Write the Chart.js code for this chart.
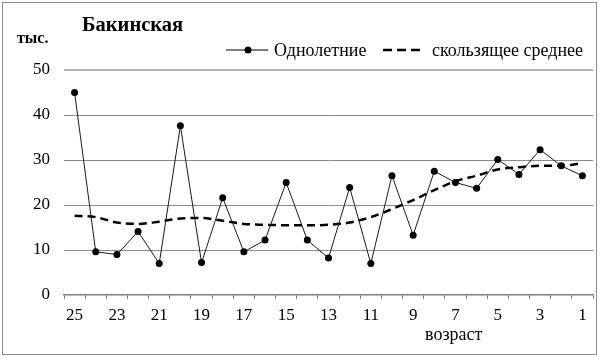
<!DOCTYPE html>
<html>
<head>
<meta charset="utf-8">
<script src="https://cdn.jsdelivr.net/npm/chart.js@4/dist/chart.umd.min.js"></script>
<style>
html,body{margin:0;padding:0;background:#fff;}
#wrap{width:600px;height:358px;position:relative;}
</style>
</head>
<body>
<div id="wrap"><canvas id="c" width="600" height="358"></canvas></div>
<script>
const ages = ['25','24','23','22','21','20','19','18','17','16','15','14','13','12','11','10','9','8','7','6','5','4','3','2','1'];
const annual = [45, 9.6, 9.0, 14.1, 7.0, 37.6, 7.2, 21.6, 9.6, 12.2, 25.0, 12.2, 8.2, 23.9, 7.0, 26.5, 13.3, 27.5, 25.0, 23.7, 30.1, 26.8, 32.3, 28.7, 26.5];
const movingAvg = [17.6, 17.3, 16.1, 15.8, 16.3, 17.0, 17.1, 16.5, 15.8, 15.6, 15.5, 15.5, 15.6, 16.1, 17.3, 19.1, 21.1, 23.3, 25.3, 26.5, 27.9, 28.4, 28.7, 28.7, 29.3];
const yTicks = [0, 10, 20, 30, 40, 50];
const titleText = 'Бакинская';
const unitText = 'тыс.';
const xTitle = 'возраст';
const legendNames = ['Однолетние', 'скользящее среднее'];

const SERIF = '"Liberation Serif", "Times New Roman", serif';

const decor = {
  id: 'decor',
  beforeDraw(chart) {
    const ctx = chart.ctx;
    ctx.save();
    ctx.fillStyle = '#fff';
    ctx.fillRect(0, 0, chart.width, chart.height);
    ctx.restore();
  },
  afterDraw(chart) {
    const ctx = chart.ctx;
    ctx.save();
    // outer frame
    ctx.strokeStyle = '#8c8c8c';
    ctx.lineWidth = 1;
    ctx.strokeRect(2.5, 2.5, 594, 352);
    // title
    ctx.fillStyle = '#000';
    ctx.textBaseline = 'middle';
    ctx.textAlign = 'left';
    ctx.font = 'bold 20.5px ' + SERIF;
    ctx.fillText(titleText, 82, 26);
    // unit
    ctx.font = 'bold 16px ' + SERIF;
    ctx.fillText(unitText, 17, 39);
    // legend
    const ly = 50;
    ctx.strokeStyle = '#000';
    ctx.lineWidth = 1;
    ctx.beginPath(); ctx.moveTo(226, ly); ctx.lineTo(268, ly); ctx.stroke();
    ctx.beginPath(); ctx.arc(248, ly, 3.5, 0, Math.PI * 2); ctx.fill();
    ctx.font = '18px ' + SERIF;
    ctx.fillText(legendNames[0], 274, ly + 1);
    ctx.lineWidth = 2.5;
    ctx.setLineDash([9, 5]);
    ctx.beginPath(); ctx.moveTo(383, ly); ctx.lineTo(423, ly); ctx.stroke();
    ctx.setLineDash([]);
    ctx.fillText(legendNames[1], 432, ly + 1);
    // x axis title
    ctx.font = '18px ' + SERIF;
    ctx.fillText(xTitle, 425, 335);
    ctx.restore();
  }
};

new Chart(document.getElementById('c'), {
  type: 'line',
  data: {
    labels: ages,
    datasets: [
      {
        label: legendNames[0],
        data: annual,
        borderColor: '#1a1a1a',
        borderWidth: 1,
        pointRadius: 3.5,
        pointBackgroundColor: '#000',
        pointBorderColor: '#000',
        pointBorderWidth: 0,
        tension: 0,
        order: 1
      },
      {
        label: legendNames[1],
        data: movingAvg,
        borderColor: '#000',
        borderWidth: 2.5,
        borderDash: [8, 5],
        pointRadius: 0,
        tension: 0.4,
        cubicInterpolationMode: 'monotone',
        order: 2
      }
    ]
  },
  options: {
    responsive: false,
    animation: false,
    devicePixelRatio: 1,
    layout: { padding: { left: 0, right: 7, top: 70, bottom: 0 } },
    plugins: { legend: { display: false }, title: { display: false }, tooltip: { enabled: false } },
    scales: {
      x: {
        offset: true,
        grid: { offset: true, drawOnChartArea: false, drawTicks: true, tickLength: 4, color: '#808080' },
        border: { display: true, color: '#808080', width: 1.5 },
        ticks: {
          autoSkip: false, maxRotation: 0, minRotation: 0, padding: 6,
          color: '#000', font: { family: SERIF, size: 17 },
          callback: function(v, i) { return i % 2 === 0 ? this.getLabelForValue(v) : ''; }
        },
        afterFit(s) { s.height = 63; }
      },
      y: {
        min: 0, max: 50,
        afterBuildTicks(s) { s.ticks = yTicks.map(v => ({ value: v })); },
        grid: {
          drawTicks: false,
          color: (c) => c.tick && c.tick.value === 50 ? '#b4b4b4' : (c.tick && c.tick.value === 0 ? 'rgba(0,0,0,0)' : '#8a8a8a'),
          lineWidth: (c) => c.tick && c.tick.value === 50 ? 2 : 1
        },
        border: { display: false },
        ticks: { padding: 14, color: '#000', font: { family: SERIF, size: 17 } },
        afterFit(s) { s.width = 64; }
      }
    }
  },
  plugins: [decor]
});
</script>
</body>
</html>
